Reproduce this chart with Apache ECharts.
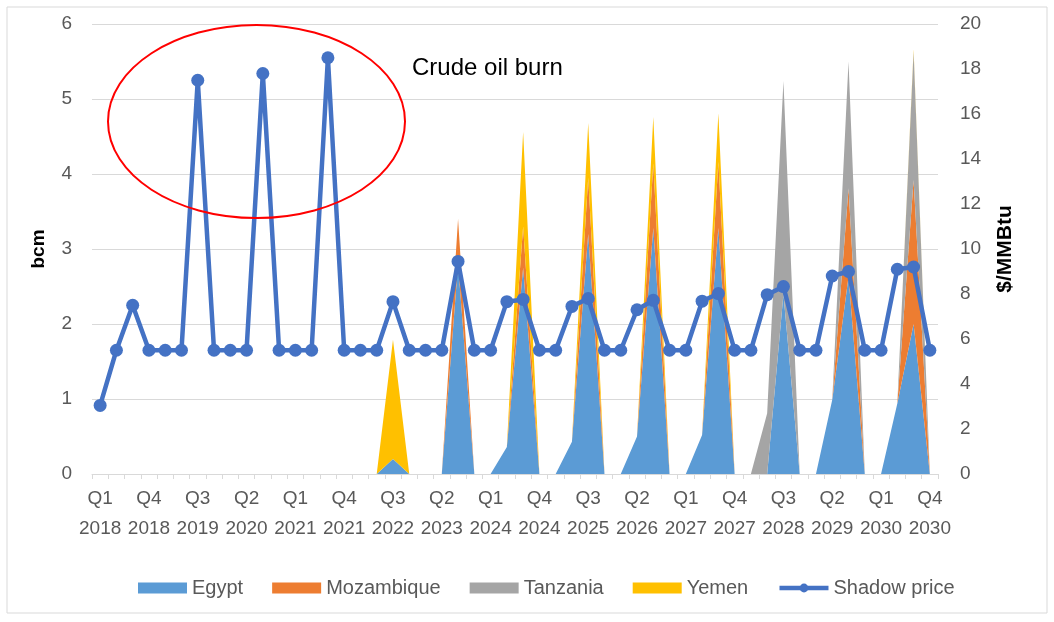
<!DOCTYPE html>
<html>
<head>
<meta charset="utf-8">
<script src="https://cdn.jsdelivr.net/npm/echarts@6/dist/echarts.min.js"></script>
<style>
html,body{margin:0;padding:0;background:#fff;}
#c{width:1054px;height:622px;}
</style>
</head>
<body>
<div id="c"></div>
<script>
// ---- data ----
var years = [2018,2019,2020,2021,2022,2023,2024,2025,2026,2027,2028,2029,2030];
var quarters = ['Q1','Q2','Q3','Q4'];
var categories = [];
years.forEach(function(y){ quarters.forEach(function(q){ categories.push(q + '\n' + y); }); });

// bcm (left axis), one value per quarter Q1 2018 .. Q4 2030
var egypt = [
  0,0,0,0, 0,0,0,0, 0,0,0,0, 0,0,0,0,
  0,0,0.2,0, 0,0,2.8,0, 0,0.36,2.75,0, 0,0.43,3.2,0,
  0,0.5,3.28,0, 0,0.52,3.28,0, 0,0,2.4,0, 0,0.99,2.63,0,
  0,0.94,2.0,0
];
var mozambique = [
  0,0,0,0, 0,0,0,0, 0,0,0,0, 0,0,0,0,
  0,0,0,0, 0,0,0.6,0, 0,0,0.55,0, 0,0,0.75,0,
  0,0,0.86,0, 0,0,0.88,0, 0,0,0,0, 0,0,1.18,0,
  0,0,1.92,0
];
var tanzania = [
  0,0,0,0, 0,0,0,0, 0,0,0,0, 0,0,0,0,
  0,0,0,0, 0,0,0,0, 0,0,0,0, 0,0,0,0,
  0,0,0,0, 0,0,0,0, 0,0.81,2.84,0, 0,0,1.69,0,
  0,0,1.71,0
];
var yemen = [
  0,0,0,0, 0,0,0,0, 0,0,0,0, 0,0,0,0,
  0,0,1.59,0, 0,0,0,0, 0,0,1.26,0, 0,0,0.73,0,
  0,0,0.62,0, 0,0,0.65,0, 0,0,0,0, 0,0,0,0,
  0,0,0.03,0
];
// $/MMBtu (right axis)
var shadowPrice = [
  3.05,5.5,7.5,5.5, 5.5,5.5,17.5,5.5, 5.5,5.5,17.8,5.5, 5.5,5.5,18.5,5.5,
  5.5,5.5,7.66,5.5, 5.5,5.5,9.45,5.5, 5.5,7.66,7.76,5.5, 5.5,7.45,7.8,5.5,
  5.5,7.3,7.72,5.5, 5.5,7.68,8.02,5.5, 5.5,7.97,8.33,5.5, 5.5,8.8,9.0,5.5,
  5.5,9.1,9.2,5.5
];
var leftTicks = {min:0, max:6, interval:1};
var rightTicks = {min:0, max:20, interval:2};

// ---- chart ----
var FONT = '"Liberation Sans", Arial, sans-serif';
var GRAY = '#595959';
var chart = echarts.init(document.getElementById('c'), null, {renderer:'canvas'});

function areaSeries(name, data, color){
  return {
    name: name, type: 'line', stack: 'gas', yAxisIndex: 0, data: data,
    symbol: 'none', showSymbol: false,
    lineStyle: {width: 0, color: color},
    itemStyle: {color: color},
    areaStyle: {color: color, opacity: 1},
    emphasis: {disabled: true},
    z: 2
  };
}

var option = {
  animation: false,
  backgroundColor: '#ffffff',
  grid: {left: 92, right: 116, top: 24, bottom: 148, containLabel: false},
  legend: {
    left: 133, top: 573,
    itemWidth: 49, itemHeight: 11, itemGap: 29,
    textStyle: {fontFamily: FONT, fontSize: 20, color: GRAY},
    data: [
      {name:'Egypt', icon:'rect'},
      {name:'Mozambique', icon:'rect'},
      {name:'Tanzania', icon:'rect'},
      {name:'Yemen', icon:'rect'},
      {name:'Shadow price', lineStyle:{width:4.5, color:'#4472C4'}}
    ]
  },
  xAxis: {
    type: 'category', data: categories, boundaryGap: true,
    axisLine: {show: true, lineStyle: {color: '#d9d9d9', width: 1}},
    axisTick: {show: true, interval: 0, length: 5, lineStyle: {color: '#d9d9d9'}},
    axisLabel: {interval: 2, color: GRAY, fontFamily: FONT, fontSize: 19, lineHeight: 30, margin: 10}
  },
  yAxis: [
    {
      type: 'value', min: leftTicks.min, max: leftTicks.max, interval: leftTicks.interval,
      name: 'bcm', nameLocation: 'middle', nameGap: 44, nameRotate: 90,
      nameTextStyle: {fontFamily: FONT, fontSize: 19, fontWeight: 'bold', color: '#000'},
      axisLine: {show: false}, axisTick: {show: false},
      axisLabel: {color: GRAY, fontFamily: FONT, fontSize: 19, margin: 20},
      splitLine: {show: true, lineStyle: {color: '#d9d9d9', width: 1}}
    },
    {
      type: 'value', min: rightTicks.min, max: rightTicks.max, interval: rightTicks.interval,
      name: '$/MMBtu', nameLocation: 'middle', nameGap: 57, nameRotate: 90,
      nameTextStyle: {fontFamily: FONT, fontSize: 21, fontWeight: 'bold', color: '#000'},
      position: 'right',
      axisLine: {show: false}, axisTick: {show: false},
      axisLabel: {color: GRAY, fontFamily: FONT, fontSize: 19, margin: 22},
      splitLine: {show: false}
    }
  ],
  series: [
    areaSeries('Egypt', egypt, '#5B9BD5'),
    areaSeries('Mozambique', mozambique, '#ED7D31'),
    areaSeries('Tanzania', tanzania, '#A5A5A5'),
    areaSeries('Yemen', yemen, '#FFC000'),
    {
      name: 'Shadow price', type: 'line', yAxisIndex: 1, data: shadowPrice,
      symbol: 'circle', symbolSize: 13, showSymbol: true, showAllSymbol: true,
      lineStyle: {color: '#4472C4', width: 4.5},
      itemStyle: {color: '#4472C4'},
      emphasis: {disabled: true},
      z: 5
    }
  ],
  graphic: [
    {type:'rect', shape:{x:7, y:7, width:1040, height:606}, style:{fill:'none', stroke:'#d9d9d9', lineWidth:1}, silent:true, z:0},
    {type:'ellipse', shape:{cx:256.5, cy:121.5, rx:148.5, ry:96.5}, style:{fill:'none', stroke:'#FF0000', lineWidth:2}, silent:true, z:10},
    {type:'text', x:412, y:68, style:{text:'Crude oil burn', fontFamily: FONT, fontSize:24, fill:'#000', verticalAlign:'middle', align:'left'}, silent:true, z:10}
  ]
};
chart.setOption(option);
</script>
</body>
</html>
